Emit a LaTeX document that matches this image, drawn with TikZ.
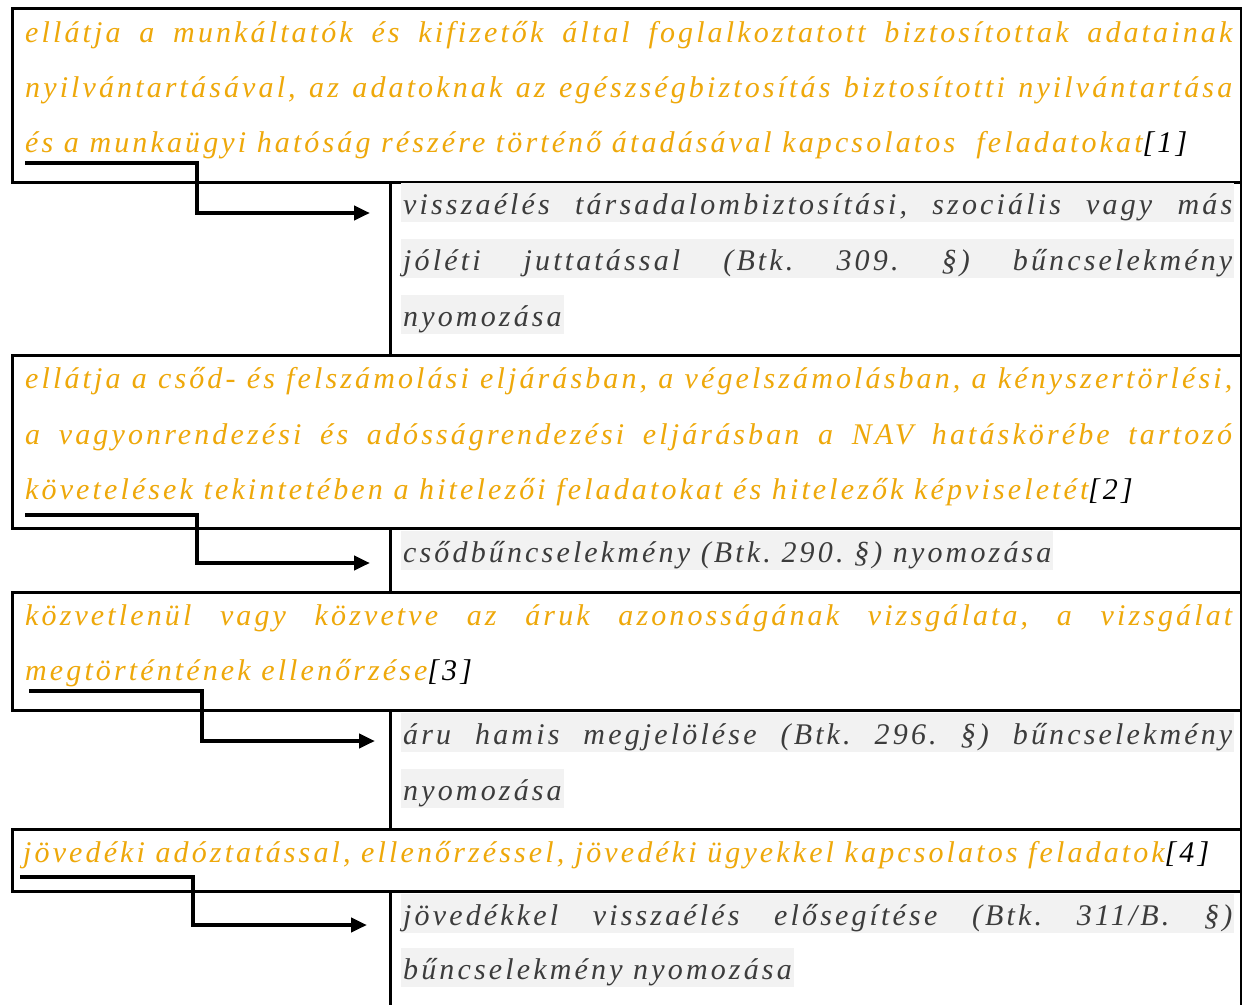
\documentclass[tikz,border=0pt]{standalone}
\usepackage{fontspec}
\setmainfont{Liberation Serif}
\newfontfamily\dutyfont{Liberation Serif}[LetterSpace=10.4]
\newfontfamily\crimefont{Liberation Serif}[LetterSpace=10.5]
\usetikzlibrary{arrows.meta}
\definecolor{ochre}{RGB}{238,168,10}
\definecolor{inkgrey}{RGB}{60,60,60}
\definecolor{shade}{RGB}{242,242,242}
\newcommand{\fullline}[2]{\makebox[#1][s]{#2}}
\newcommand{\fnref}[1]{{\color{black}[#1]}}
\frenchspacing
\begin{document}
\begin{tikzpicture}[x=1bp,y=-1bp,
  frame/.style={draw=black, line width=2.5bp, inner sep=0pt, anchor=north west},
  duty/.style={anchor=base west, inner sep=0pt, text=ochre,
    font=\dutyfont\itshape\fontsize{30bp}{36bp}\selectfont\frenchspacing},
  crime/.style={anchor=base west, inner xsep=2bp, inner ysep=0pt, fill=shade,
    text height=31bp, text depth=8bp, text=inkgrey,
    font=\crimefont\itshape\fontsize{30bp}{36bp}\selectfont\frenchspacing},
  link/.style={line width=4.3bp, line join=miter, -{Triangle[length=16bp,width=14bp]}}
]
\useasboundingbox (0,0) rectangle (1242,1005);
\clip (0,0) rectangle (1242,1005);
\fill[white] (0,0) rectangle (1242,1005);

% outer duty boxes and the offence boxes beneath them
\node[frame, minimum width=1229bp, minimum height=174bp] (duty1) at (11,7) {};
\node[frame, minimum width=851bp, minimum height=173bp] (crime1) at (389,181) {};
\node[frame, minimum width=1229bp, minimum height=173bp] (duty2) at (11,354) {};
\node[frame, minimum width=851bp, minimum height=64bp] (crime2) at (389,527) {};
\node[frame, minimum width=1229bp, minimum height=118bp] (duty3) at (11,591) {};
\node[frame, minimum width=851bp, minimum height=119bp] (crime3) at (389,709) {};
\node[frame, minimum width=1229bp, minimum height=62bp] (duty4) at (11,828) {};
\node[frame, minimum width=851bp, minimum height=130bp] (crime4) at (389,890) {};

% duty texts
\node[duty] (d1a) at (25,42) {\fullline{1207bp}{ellátja a munkáltatók és kifizetők által foglalkoztatott biztosítottak adatainak}};
\node[duty] (d1b) at (25,97) {\fullline{1207bp}{nyilvántartásával, az adatoknak az egészségbiztosítás biztosítotti nyilvántartása}};
\node[duty] (d1c) at (25,152) {és a munkaügyi hatóság részére történő átadásával kapcsolatos\ \ feladatokat\fnref{1}};

\node[duty] (d2a) at (25,388) {\fullline{1207bp}{ellátja a csőd- és felszámolási eljárásban, a végelszámolásban, a kényszertörlési,}};
\node[duty] (d2b) at (25,444) {\fullline{1207bp}{a vagyonrendezési és adósságrendezési eljárásban a NAV hatáskörébe tartozó}};
\node[duty] (d2c) at (25,499) {követelések tekintetében a hitelezői feladatokat és hitelezők képviseletét\fnref{2}};

\node[duty] (d3a) at (25,625) {\fullline{1207bp}{közvetlenül vagy közvetve az áruk azonosságának vizsgálata, a vizsgálat}};
\node[duty] (d3b) at (25,680) {megtörténtének ellenőrzése\fnref{3}};

\node[duty] (d4a) at (23,862) {jövedéki adóztatással, ellenőrzéssel, jövedéki ügyekkel kapcsolatos feladatok\fnref{4}};

% offence texts on shaded lines
\node[crime] (c1a) at (401,214) {\fullline{829bp}{visszaélés társadalombiztosítási, szociális vagy más}};
\node[crime] (c1b) at (401,270) {\fullline{829bp}{jóléti juttatással (Btk. 309. §) bűncselekmény}};
\node[crime] (c1c) at (401,326) {nyomozása};

\node[crime] (c2a) at (401,562) {csődbűncselekmény (Btk. 290. §) nyomozása};

\node[crime] (c3a) at (401,744) {\fullline{829bp}{áru hamis megjelölése (Btk. 296. §) bűncselekmény}};
\node[crime] (c3b) at (401,800) {nyomozása};

\node[crime] (c4a) at (401,925) {\fullline{829bp}{jövedékkel visszaélés elősegítése (Btk. 311/B. §)}};
\node[crime] (c4b) at (401,979) {bűncselekmény nyomozása};

% elbow connectors
\coordinate (s1) at (25,163);  \coordinate (e1) at (370,213);
\coordinate (s2) at (25,515);  \coordinate (e2) at (370,563);
\coordinate (s3) at (29,691);  \coordinate (e3) at (375,741);
\coordinate (s4) at (20,877);  \coordinate (e4) at (367,925);
\draw[link] (s1) -- ++(172,0) |- (e1);
\draw[link] (s2) -- ++(172,0) |- (e2);
\draw[link] (s3) -- ++(173,0) |- (e3);
\draw[link] (s4) -- ++(173,0) |- (e4);
\end{tikzpicture}
\end{document}
